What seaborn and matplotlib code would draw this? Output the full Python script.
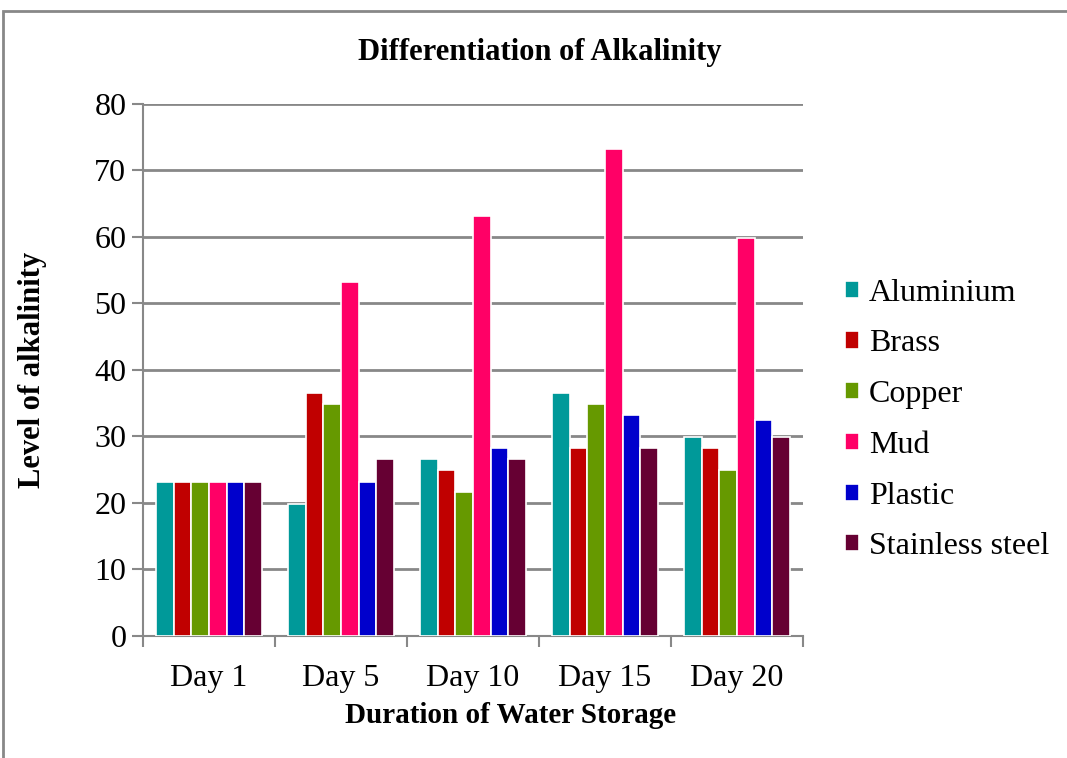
import pandas as pd
import seaborn as sns
import matplotlib.pyplot as plt
from matplotlib.patches import Rectangle

days = ['Day 1', 'Day 5', 'Day 10', 'Day 15', 'Day 20']
aluminium = [23.2, 19.9, 26.6, 36.5, 29.9]
brass = [23.2, 36.5, 24.9, 28.2, 28.2]
copper = [23.2, 34.9, 21.6, 34.9, 24.9]
mud = [23.2, 53.2, 63.2, 73.2, 59.9]
plastic = [23.2, 23.2, 28.2, 33.2, 32.5]
stainless = [23.2, 26.6, 26.6, 28.2, 29.9]

materials = ['Aluminium', 'Brass', 'Copper', 'Mud', 'Plastic', 'Stainless steel']
colors = ['#009999', '#C00000', '#669900', '#FF0066', '#0000CC', '#660033']

series = [aluminium, brass, copper, mud, plastic, stainless]
rows = []
for m, vals in zip(materials, series):
    for d, v in zip(days, vals):
        rows.append({'Day': d, 'Material': m, 'Value': v})
df = pd.DataFrame(rows)

sns.set_style('white')
plt.rcParams['font.family'] = ['Liberation Serif', 'DejaVu Serif']
plt.rcParams['text.color'] = 'black'
plt.rcParams['axes.labelcolor'] = 'black'
plt.rcParams['xtick.color'] = 'black'
plt.rcParams['ytick.color'] = 'black'

fig = plt.figure(figsize=(10.67, 7.58), dpi=100)
ax = fig.add_axes([0.134, 0.161, 0.6186, 0.7018])

sns.barplot(data=df, x='Day', y='Value', hue='Material', order=days,
            hue_order=materials, palette=colors, width=0.8,
            edgecolor='white', linewidth=1.2, saturation=1, ax=ax, zorder=3)

ax.set_ylim(0, 80)
ax.set_xlim(-0.5, 4.5)
ax.set_yticks(range(0, 81, 10))
ax.tick_params(axis='y', labelsize=23, length=8, width=1.5, color='#888888',
               labelcolor='black', pad=4, direction='out', left=True)
ax.tick_params(axis='x', which='major', labelsize=23, length=0, pad=20, labelcolor='black')
ax.set_xticks([-0.5 + i for i in range(6)], minor=True)
ax.tick_params(axis='x', which='minor', length=8, width=1.5, color='#888888',
               direction='out', bottom=True)
ax.yaxis.grid(True, color='#888888', linewidth=2, zorder=0)
ax.set_axisbelow(True)
for s in ['top', 'right']:
    ax.spines[s].set_visible(False)
for s in ['left', 'bottom']:
    ax.spines[s].set_color('#888888')
    ax.spines[s].set_linewidth(1.5)

ax.set_xlabel('Duration of Water Storage', fontsize=21, fontweight='bold', labelpad=7)
ax.xaxis.label.set_x(0.5576)
ax.set_ylabel('Level of alkalinity', fontsize=22, fontweight='bold', labelpad=34)
fig.text(0.506, 0.931, 'Differentiation of Alkalinity', ha='center', va='center',
         fontsize=22, fontweight='bold')

handles, labels = ax.get_legend_handles_labels()
ax.legend(handles, labels, loc='center left', bbox_to_anchor=(0.765, 0.446),
          bbox_transform=fig.transFigure, frameon=False, fontsize=23,
          handlelength=0.45, handleheight=0.45, handletextpad=0.3, labelspacing=0.68)

fig.patches.append(Rectangle((0.003, -0.01), 1.2, 0.995, transform=fig.transFigure,
                             fill=False, edgecolor='#888888', linewidth=2))

fig.savefig('out.png', dpi=100)
